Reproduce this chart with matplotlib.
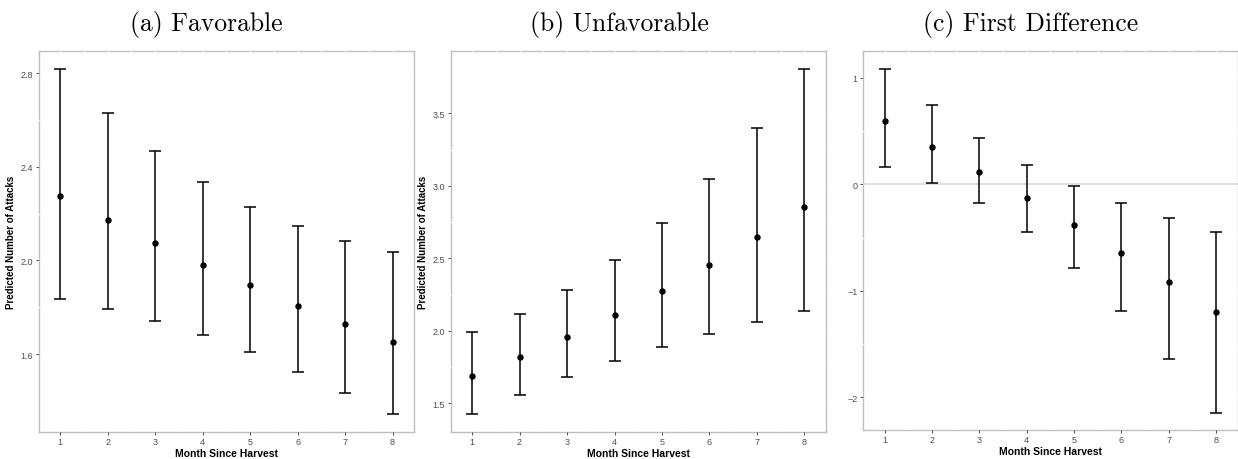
import numpy as np
import matplotlib
matplotlib.use("Agg")
import matplotlib.pyplot as plt
from matplotlib.ticker import FixedLocator

plt.rcParams['font.family'] = ['Liberation Sans', 'DejaVu Sans']

months = [1, 2, 3, 4, 5, 6, 7, 8]

# (a) Favorable
fav_est = [2.274, 2.171, 2.074, 1.982, 1.893, 1.807, 1.728, 1.651]
fav_lo = [1.835, 1.793, 1.743, 1.682, 1.607, 1.524, 1.433, 1.342]
fav_hi = [2.819, 2.629, 2.468, 2.335, 2.227, 2.145, 2.084, 2.036]

# (b) Unfavorable
unf_est = [1.686, 1.819, 1.961, 2.112, 2.277, 2.456, 2.647, 2.855]
unf_lo = [1.424, 1.560, 1.683, 1.794, 1.892, 1.979, 2.062, 2.140]
unf_hi = [1.995, 2.119, 2.284, 2.491, 2.743, 3.046, 3.399, 3.808]

# (c) First difference
fd_est = [0.588, 0.353, 0.116, -0.128, -0.381, -0.644, -0.916, -1.197]
fd_lo = [0.159, 0.009, -0.181, -0.444, -0.784, -1.188, -1.641, -2.141]
fd_hi = [1.085, 0.741, 0.434, 0.181, -0.016, -0.175, -0.316, -0.447]

fav_ticks = [1.6, 2.0, 2.4, 2.8]
unf_ticks = [1.5, 2.0, 2.5, 3.0, 3.5]
fd_ticks = [-2, -1, 0, 1]

titles = ['(a) Favorable', '(b) Unfavorable', '(c) First Difference']
title_x = [206, 619, 1031]

W, H = 1238, 460
fig = plt.figure(figsize=(W / 100, H / 100), dpi=100)


def px_axes(left, right, top, bottom):
    return fig.add_axes([left / W, 1 - bottom / H, (right - left) / W, (bottom - top) / H])


def draw_panel(ax, est, lo, hi, yticks, fmt, ylabel=True):
    est = np.array(est)
    yerr = [est - np.array(lo), np.array(hi) - est]
    ax.errorbar(months, est, yerr=yerr, fmt='o', color='black', ms=3.6,
                elinewidth=1.1, capsize=4.5, capthick=1.1, zorder=3)
    ax.set_xlim(0.55, 8.45)
    ax.margins(y=0.05)
    ax.set_xticks(months)
    ax.set_yticks(yticks)
    ax.set_yticklabels([fmt(v) for v in yticks])
    # minor grid positions (white lines, only visible where they cross the border)
    ax.xaxis.set_minor_locator(FixedLocator(np.arange(1.5, 8, 1)))
    ymid = [(a + b) / 2 for a, b in zip(yticks[:-1], yticks[1:])]
    ax.yaxis.set_minor_locator(FixedLocator(ymid))
    ax.grid(True, which='both', color='white', lw=0.9)
    ax.set_axisbelow(False)
    ax.tick_params(which='minor', length=0)
    ax.tick_params(which='major', length=2.5, width=0.6, color='#333333',
                   labelcolor='#4D4D4D', labelsize=6.5, pad=1.5)
    for sp in ax.spines.values():
        sp.set_color('#BEBEBE')
        sp.set_linewidth(1.0)
        sp.set_zorder(1)
    ax.set_xlabel('Month Since Harvest', fontsize=7.5, fontweight='bold', labelpad=1)
    if ylabel:
        ax.set_ylabel('Predicted Number of Attacks', fontsize=7, fontweight='bold', labelpad=3)


ax_a = px_axes(38.7, 414, 52.3, 432.7)
draw_panel(ax_a, fav_est, fav_lo, fav_hi, fav_ticks, lambda v: f'{v:.1f}')

ax_b = px_axes(450.7, 825.8, 52.3, 432.7)
draw_panel(ax_b, unf_est, unf_lo, unf_hi, unf_ticks, lambda v: f'{v:.1f}')

ax_c = px_axes(863.3, 1237.5, 52.3, 430.7)
ax_c.axhline(0, color='#D9D9D9', lw=1.2, zorder=2.6)
draw_panel(ax_c, fd_est, fd_lo, fd_hi, fd_ticks,
           lambda v: f'{v:d}'.replace('-', '\u2212'), ylabel=False)

for t, x in zip(titles, title_x):
    fig.text(x / W, 1 - 24 / H, t, ha='center', va='center',
             fontsize=18.5, family='cmr10')

fig.savefig('out.png', dpi=100)
